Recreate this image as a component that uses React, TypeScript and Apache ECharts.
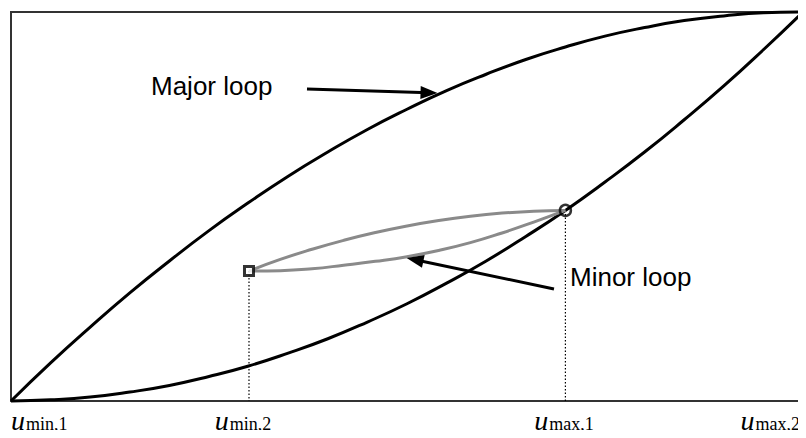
import React, { useEffect, useRef } from "react";
import * as echarts from "echarts";

// Major loop (upper branch and lower branch), x in % of u-range, y in % of output range
const majorUpperX = [0, 5, 10, 15, 20, 25, 30, 35, 40, 45, 50, 55, 60, 65, 70, 75, 80, 85, 90, 95, 100];
const majorUpperY = [0, 9.8, 19.0, 27.8, 36.0, 43.8, 51.0, 57.8, 64.0, 69.8, 75.0, 79.8, 84.0, 87.8, 91.0, 93.8, 96.0, 97.8, 99.0, 99.8, 100];
const majorLowerX = [0, 5, 10, 15, 20, 25, 30, 35, 40, 45, 50, 55, 60, 65, 70, 75, 80, 85, 90, 95, 100];
const majorLowerY = [0, 0.3, 1.0, 2.3, 4.0, 6.3, 9.0, 12.3, 16.0, 20.3, 25.0, 30.3, 36.0, 42.3, 49.0, 56.3, 64.0, 72.3, 81.0, 90.3, 100];

// Minor loop
const minorUpperX = [30.05, 34, 38, 42, 46, 50, 54, 58, 62, 66, 70];
const minorUpperY = [33.4, 36.4, 39.0, 41.3, 43.3, 45.0, 46.4, 47.5, 48.3, 48.8, 49.0];
const minorLowerX = [30.05, 34, 38, 42, 46, 50, 54, 58, 62, 66, 70];
const minorLowerY = [33.4, 33.5, 34.0, 34.9, 35.9, 37.1, 38.7, 40.7, 43.2, 46.0, 49.0];

// Reversal points
const startPoint = [30.05, 33.4];
const turnPoint = [70, 49];

// Tick labels
const tickValues = [0, 30.05, 70, 100];
const tickSubs = ["min,1", "min,2", "max,1", "max,2"];

// Annotations
const majorArrow = [[37.37, 80.2], [52.78, 79.23]];
const minorArrow = [[68.56, 28.79], [51.01, 36.32]];
const majorLabel = "Major loop";
const minorLabel = "Minor loop";

const zip = (xs: number[], ys: number[]) => xs.map((x, i) => [x, ys[i]]);

export default function App() {
  const ref = useRef<HTMLDivElement>(null);
  useEffect(() => {
    if (!ref.current) return;
    const chart = echarts.init(ref.current, null, { renderer: "svg" });
    const black = "#000";
    const gray = "#8a8a8a";
    const curve = (xs: number[], ys: number[], color: string, z: number) => ({
      type: "line",
      data: zip(xs, ys),
      smooth: true,
      showSymbol: false,
      clip: false,
      lineStyle: { color, width: 3 },
      z,
    });
    const subStyle = {
      fontFamily: "Liberation Serif",
      fontSize: 18,
      color: black,
      lineHeight: 30,
    };
    chart.setOption({
      animation: false,
      grid: {
        left: 11,
        right: 3,
        top: 12,
        bottom: 37,
        show: true,
        borderColor: "#333",
        borderWidth: 2,
        backgroundColor: "transparent",
      },
      xAxis: {
        type: "value",
        min: 0,
        max: 100,
        axisLine: { show: false },
        axisTick: { show: false },
        splitLine: { show: false },
        axisLabel: {
          customValues: tickValues,
          alignMinLabel: "left",
          alignMaxLabel: "right",
          margin: 4,
          formatter: (v: number) => {
            let idx = 0;
            let best = Infinity;
            tickValues.forEach((t, i) => {
              const d = Math.abs(t - v);
              if (d < best) {
                best = d;
                idx = i;
              }
            });
            const key = idx === 1 ? "s2" : "s";
            return "{u|u}{" + key + "|" + tickSubs[idx] + "}";
          },
          rich: {
            u: {
              fontFamily: "Liberation Serif",
              fontStyle: "italic",
              fontSize: 28,
              color: black,
              lineHeight: 30,
            },
            s: { ...subStyle, padding: [7, 3, 0, 1] },
            s2: { ...subStyle, padding: [7, 12, 0, 1] },
          },
        },
      },
      yAxis: {
        type: "value",
        min: 0,
        max: 100,
        axisLine: { show: false },
        axisTick: { show: false },
        splitLine: { show: false },
        axisLabel: { show: false },
      },
      graphic: [
        {
          type: "text",
          x: 151,
          y: 86,
          style: {
            text: majorLabel,
            fontFamily: "Liberation Sans",
            fontSize: 26,
            fill: black,
            align: "left",
            verticalAlign: "middle",
          },
        },
        {
          type: "text",
          x: 570,
          y: 277,
          style: {
            text: minorLabel,
            fontFamily: "Liberation Sans",
            fontSize: 26,
            fill: black,
            align: "left",
            verticalAlign: "middle",
          },
        },
      ],
      series: [
        curve(majorUpperX, majorUpperY, black, 3),
        curve(majorLowerX, majorLowerY, black, 3),
        curve(minorUpperX, minorUpperY, gray, 4),
        curve(minorLowerX, minorLowerY, gray, 4),
        {
          type: "line",
          data: [startPoint, [startPoint[0], 0]],
          showSymbol: false,
          lineStyle: { color: black, width: 1.2, type: [1.5, 2] },
          z: 2,
        },
        {
          type: "line",
          data: [turnPoint, [turnPoint[0], 0]],
          showSymbol: false,
          lineStyle: { color: black, width: 1.2, type: [1.5, 2] },
          z: 2,
        },
        {
          type: "scatter",
          data: [startPoint],
          symbol: "rect",
          symbolSize: 9,
          itemStyle: { color: "#fff", borderColor: black, borderWidth: 3 },
          z: 6,
        },
        {
          type: "scatter",
          data: [turnPoint],
          symbol: "circle",
          symbolSize: 11,
          itemStyle: { color: "rgba(255,255,255,0)", borderColor: black, borderWidth: 2.5 },
          z: 6,
        },
        {
          type: "line",
          data: [],
          z: 7,
          markLine: {
            silent: true,
            animation: false,
            symbol: ["none", "triangle"],
            symbolSize: [13, 17],
            label: { show: false },
            lineStyle: { color: black, width: 3, type: "solid" },
            data: [
              [{ coord: majorArrow[0] }, { coord: majorArrow[1] }],
              [{ coord: minorArrow[0] }, { coord: minorArrow[1] }],
            ],
          },
        },
      ],
    });
    return () => chart.dispose();
  }, []);
  return <div ref={ref} style={{ width: 806, height: 438, margin: -8 }} />;
}
